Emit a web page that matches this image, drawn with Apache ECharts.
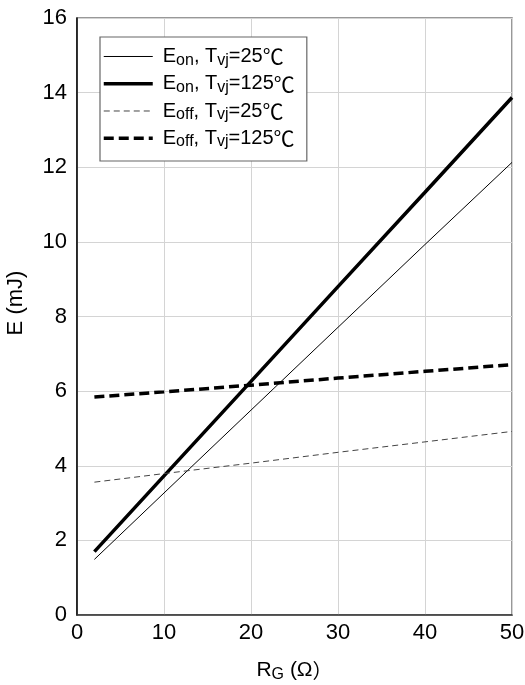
<!DOCTYPE html>
<html>
<head>
<meta charset="utf-8">
<script src="https://cdn.jsdelivr.net/npm/echarts@6/dist/echarts.min.js"></script>
<style>
html,body{margin:0;padding:0;background:#fff;}
#c{width:525px;height:685px;}
</style>
</head>
<body>
<div id="c"></div>
<script>
// Data
const rg = [2, 10, 20, 30, 40, 50];
const eon25 = [1.49, 3.27, 5.49, 7.71, 9.93, 12.13];
const eon125 = [1.70, 3.73, 6.26, 8.80, 11.33, 13.87];
const eoff25 = [3.56, 3.79, 4.07, 4.36, 4.64, 4.92];
const eoff125 = [5.84, 5.98, 6.16, 6.35, 6.53, 6.71];
const xTicks = [0, 10, 20, 30, 40, 50];
const yTicks = [0, 2, 4, 6, 8, 10, 12, 14, 16];
const seriesNames = ['eon25', 'eon125', 'eoff25', 'eoff125'];
const legendLabels = {
  eon25: '{m|E}{s|on}{m|, T}{s|vj}{m|=25}{c|℃}',
  eon125: '{m|E}{s|on}{m|, T}{s|vj}{m|=125}{c|℃}',
  eoff25: '{m|E}{s|off}{m|, T}{s|vj}{m|=25}{c|℃}',
  eoff125: '{m|E}{s|off}{m|, T}{s|vj}{m|=125}{c|℃}'
};

const pair = (ys) => rg.map((x, i) => [x, ys[i]]);
const FONT = '"Liberation Sans", Arial, sans-serif';
const CJK = '"Noto Sans CJK SC", sans-serif';

const lineW = {eon25: 1, eon125: 3.5, eoff25: 1, eoff125: 3.5};

const chart = echarts.init(document.getElementById('c'), null, {renderer: 'canvas'});
chart.setOption({
  animation: false,
  backgroundColor: '#fff',
  grid: {left: 77, right: 13, top: 18, bottom: 70, show: true, borderColor: '#777', borderWidth: 1.5,
    containLabel: false, outerBoundsMode: 'none'},
  legend: {
    orient: 'vertical',
    left: 100, top: 37,
    padding: [9, 12, 11, 2],
    backgroundColor: '#fff',
    borderColor: '#666', borderWidth: 1.2,
    itemWidth: 49, itemHeight: 14, itemGap: 5,
    itemStyle: {opacity: 0},
    data: seriesNames.map(n => ({name: n, lineStyle: {width: lineW[n]}})),
    formatter: (n) => legendLabels[n],
    textStyle: {
      padding: [0, 0, 0, 5],
      rich: {
        m: {fontSize: 20, fontFamily: FONT, color: '#000', lineHeight: 23.5},
        c: {fontSize: 21, fontFamily: CJK, color: '#000', lineHeight: 23.5},
        s: {fontSize: 16, fontFamily: FONT, color: '#000', lineHeight: 15, verticalAlign: 'bottom'}
      }
    }
  },
  xAxis: {
    type: 'value', min: 0, max: 50, interval: 10,
    name: '{m|R}{s|G}{m| (Ω}{c|）}', nameLocation: 'middle', nameGap: 43,
    nameTextStyle: {rich: {
      m: {fontSize: 21, fontFamily: FONT, color: '#000', lineHeight: 25},
      c: {fontSize: 20, fontFamily: CJK, color: '#000', lineHeight: 25},
      s: {fontSize: 16, fontFamily: FONT, color: '#000', lineHeight: 16, verticalAlign: 'bottom'}
    }},
    axisLine: {lineStyle: {color: '#333', width: 1.5}},
    axisTick: {show: false},
    axisLabel: {fontSize: 22, fontFamily: FONT, color: '#000', margin: 7,
      customValues: xTicks},
    splitLine: {lineStyle: {color: '#d4d4d4', width: 1}}
  },
  yAxis: {
    type: 'value', min: 0, max: 16, interval: 2,
    name: 'E (mJ)', nameLocation: 'middle', nameGap: 50,
    nameTextStyle: {fontSize: 22, fontFamily: FONT, color: '#000', padding: [0, 0, 0, 27]},
    axisLine: {show: true, lineStyle: {color: '#000', width: 1.5}},
    axisTick: {show: false},
    axisLabel: {fontSize: 22, fontFamily: FONT, color: '#000', margin: 10,
      customValues: yTicks},
    splitLine: {lineStyle: {color: '#d4d4d4', width: 1}}
  },
  series: [
    {name: 'eon25', type: 'line', data: pair(eon25), symbol: 'none', color: '#000',
      lineStyle: {color: '#000', width: 1}},
    {name: 'eon125', type: 'line', data: pair(eon125), symbol: 'none', color: '#000',
      lineStyle: {color: '#000', width: 3.5}},
    {name: 'eoff25', type: 'line', data: pair(eoff25), symbol: 'none', color: '#444',
      lineStyle: {color: '#444', width: 1, type: [6, 4]}},
    {name: 'eoff125', type: 'line', data: pair(eoff125), symbol: 'none', color: '#000',
      lineStyle: {color: '#000', width: 3.5, type: [10, 5]}}
  ]
});
</script>
</body>
</html>
